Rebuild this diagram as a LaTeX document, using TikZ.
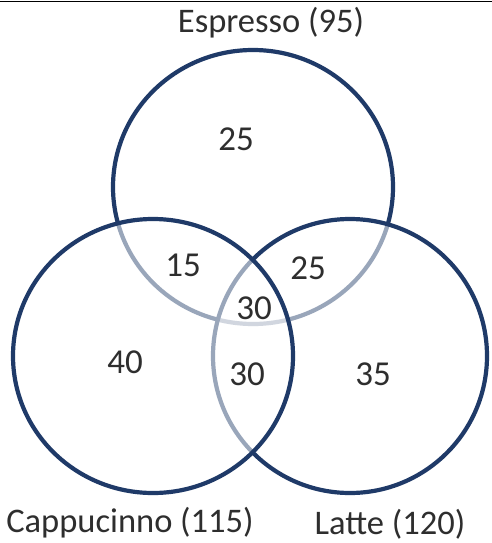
\documentclass[tikz,border=0pt]{standalone}
\usepackage{fontspec}
\setmainfont{Carlito}
\definecolor{ring}{HTML}{1F3A68}
\definecolor{txt}{HTML}{2E2E2E}
\begin{document}
\begin{tikzpicture}[x=1pt,y=-1pt,
  setc/.style={draw=ring,line width=4.2pt,fill=white,fill opacity=0.55,draw opacity=1},
  lbl/.style={text=txt,font=\fontsize{34.5}{40}\selectfont,inner sep=0pt},
  num/.style={text=txt,font=\fontsize{35}{40}\selectfont,inner sep=0pt}]
\useasboundingbox (0,0) rectangle (492,543);
\fill[white] (0,0) rectangle (492,543);
\coordinate (tl) at (0,1.5);
\coordinate (tr) at (492,1.5);
\draw[black,line width=1.6pt] (tl) -- (tr);
\path[setc] (253,187) circle[x radius=140,y radius=137];
\path[setc] (350,356) circle[x radius=137,y radius=137];
\path[setc] (153,356) circle[x radius=140,y radius=137];
\node[lbl] (esp) at (271,23) {Espresso (95)};
\node[lbl] (cap) at (130,523) {Cappucinno (115)};
\node[lbl] (lat) at (390,524) {Latte (120)};
\node[num] (n1) at (236,139) {25};
\node[num] (n2) at (183,265) {15};
\node[num] (n3) at (308,268) {25};
\node[num] (n4) at (254,308) {30};
\node[num] (n5) at (125,362) {40};
\node[num] (n6) at (247,374) {30};
\node[num] (n7) at (373,374) {35};
\end{tikzpicture}
\end{document}
